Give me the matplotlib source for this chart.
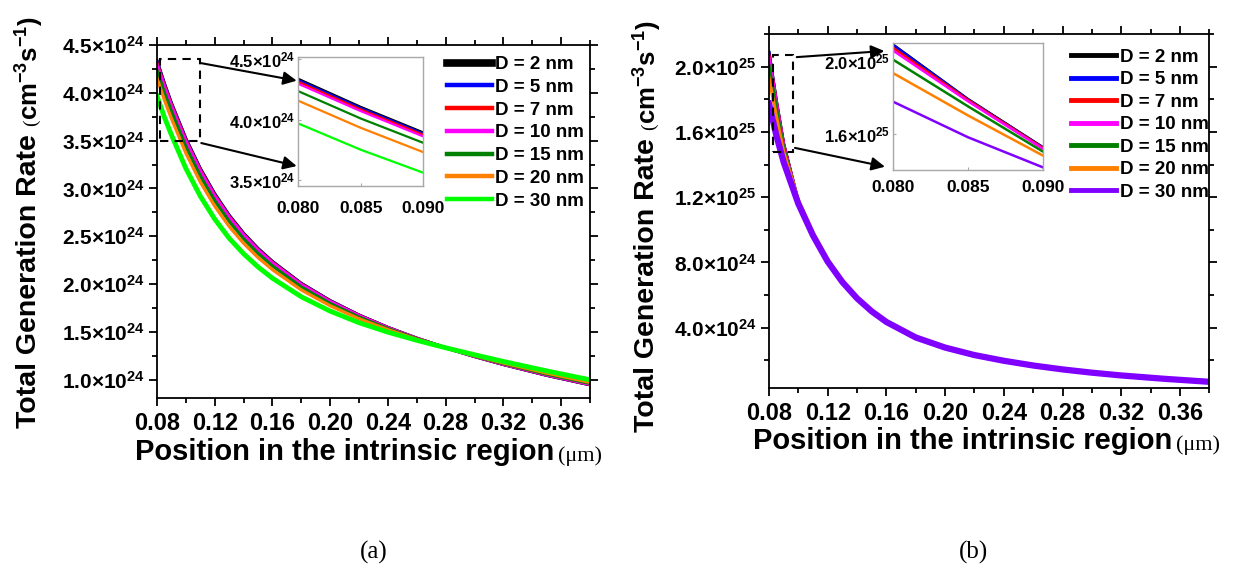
import numpy as np
import matplotlib
matplotlib.use('Agg')
import matplotlib.pyplot as plt
from matplotlib.ticker import MultipleLocator, FixedLocator, FuncFormatter
from matplotlib.patches import Rectangle

plt.rcParams['font.family'] = 'Liberation Sans'
plt.rcParams['font.weight'] = 'bold'
plt.rcParams['mathtext.fontset'] = 'custom'
plt.rcParams['mathtext.rm'] = 'Liberation Sans:bold'
plt.rcParams['mathtext.bf'] = 'Liberation Sans:bold'
plt.rcParams['mathtext.it'] = 'Liberation Sans:bold'
plt.rcParams['mathtext.default'] = 'rm'

'''------DATA------'''
labels = ['D = 2 nm', 'D = 5 nm', 'D = 7 nm', 'D = 10 nm', 'D = 15 nm', 'D = 20 nm', 'D = 30 nm']
colors_a = ['#000000', '#0000ff', '#ff0000', '#ff00ff', '#008000', '#ff8000', '#00ff00']
colors_b = ['#000000', '#0000ff', '#ff0000', '#ff00ff', '#008000', '#ff8000', '#8000ff']

# position in um
pos = [0.08, 0.085, 0.09, 0.10, 0.11, 0.12, 0.13, 0.14, 0.15, 0.16, 0.18, 0.20,
       0.22, 0.24, 0.26, 0.28, 0.30, 0.32, 0.35, 0.38]

# panel (a), units of 1e24 cm^-3 s^-1
gen_a = [
    [4.336, 4.104, 3.893, 3.522, 3.209, 2.945, 2.721, 2.532, 2.373, 2.237, 2.008, 1.828, 1.677, 1.548, 1.435, 1.335, 1.244, 1.160, 1.047, 0.948],
    [4.326, 4.095, 3.884, 3.514, 3.202, 2.938, 2.715, 2.527, 2.368, 2.233, 2.005, 1.825, 1.675, 1.547, 1.434, 1.335, 1.244, 1.161, 1.048, 0.949],
    [4.312, 4.083, 3.874, 3.503, 3.192, 2.929, 2.707, 2.519, 2.361, 2.227, 2.000, 1.821, 1.672, 1.545, 1.434, 1.335, 1.245, 1.162, 1.050, 0.951],
    [4.295, 4.069, 3.860, 3.491, 3.180, 2.919, 2.697, 2.511, 2.354, 2.220, 1.994, 1.817, 1.669, 1.543, 1.433, 1.335, 1.246, 1.163, 1.052, 0.953],
    [4.234, 4.008, 3.807, 3.438, 3.131, 2.873, 2.656, 2.474, 2.321, 2.190, 1.970, 1.798, 1.655, 1.535, 1.429, 1.335, 1.249, 1.169, 1.059, 0.962],
    [4.155, 3.931, 3.730, 3.369, 3.067, 2.815, 2.603, 2.427, 2.278, 2.151, 1.939, 1.774, 1.638, 1.524, 1.424, 1.335, 1.253, 1.176, 1.070, 0.973],
    [3.967, 3.750, 3.560, 3.210, 2.920, 2.680, 2.480, 2.318, 2.180, 2.062, 1.868, 1.718, 1.597, 1.498, 1.413, 1.335, 1.262, 1.192, 1.093, 1.000],
]

# panel (b), units of 1e24 cm^-3 s^-1
gen_b = [
    [20.89, 17.90, 15.26, 11.70, 9.70, 8.05, 6.78, 5.78, 4.98, 4.33, 3.38, 2.77, 2.31, 1.96, 1.67, 1.43, 1.23, 1.06, 0.85, 0.67],
    [20.86, 17.88, 15.25, 11.70, 9.70, 8.05, 6.78, 5.78, 4.98, 4.33, 3.38, 2.77, 2.31, 1.96, 1.67, 1.43, 1.23, 1.06, 0.85, 0.67],
    [20.71, 17.85, 15.22, 11.70, 9.71, 8.06, 6.79, 5.78, 4.98, 4.33, 3.38, 2.77, 2.31, 1.96, 1.67, 1.43, 1.23, 1.06, 0.85, 0.67],
    [20.56, 17.78, 15.17, 11.72, 9.72, 8.07, 6.79, 5.79, 4.98, 4.33, 3.38, 2.77, 2.31, 1.96, 1.67, 1.43, 1.23, 1.06, 0.85, 0.67],
    [20.06, 17.50, 15.02, 11.75, 9.75, 8.10, 6.82, 5.79, 4.97, 4.31, 3.36, 2.75, 2.30, 1.95, 1.66, 1.43, 1.23, 1.06, 0.85, 0.67],
    [19.32, 17.00, 14.80, 11.85, 9.85, 8.20, 6.88, 5.78, 4.95, 4.28, 3.33, 2.72, 2.27, 1.93, 1.65, 1.42, 1.23, 1.06, 0.85, 0.67],
    [17.75, 15.80, 14.15, 11.60, 9.65, 8.05, 6.80, 5.80, 5.00, 4.35, 3.40, 2.78, 2.32, 1.97, 1.68, 1.44, 1.24, 1.07, 0.86, 0.68],
]
'''------DATA------'''

W, H = 1239, 576
fig = plt.figure(figsize=(W / 100, H / 100), dpi=100)


def box(l, t, r, b):
    # pixel box (top-left origin) -> figure fraction rect
    return [l / W, 1 - b / H, (r - l) / W, (b - t) / H]


def sci(v, pos=None):
    if v <= 0:
        return ''
    e = int(np.floor(np.log10(v) + 1e-9))
    return '%.1f×10$^{%d}$' % (v / 10 ** e, e)


def style_main(ax):
    for s in ax.spines.values():
        s.set_linewidth(1.3)
    ax.tick_params(which='both', direction='out', top=True, right=True,
                   labeltop=False, labelright=False, width=1.3)
    ax.tick_params(which='major', length=6)
    ax.tick_params(which='minor', length=3.5)
    ax.tick_params(axis='x', labelsize=17, pad=4)
    ax.tick_params(axis='y', labelsize=15, pad=3)
    ax.xaxis.set_major_locator(MultipleLocator(0.04))
    ax.xaxis.set_minor_locator(MultipleLocator(0.02))
    ax.xaxis.set_major_formatter(FuncFormatter(lambda v, p: '%.2f' % v))
    ax.yaxis.set_major_formatter(FuncFormatter(sci))
    ax.set_xlim(0.08, 0.38)


def style_inset(ax, yticks, xpad):
    for s in ax.spines.values():
        s.set_linewidth(1.0)
        s.set_color('#a8a8a8')
    ax.tick_params(which='both', direction='in', color='#a8a8a8', length=2.5)
    ax.tick_params(axis='x', labelsize=12.5, pad=xpad)
    ax.tick_params(axis='y', labelsize=12, pad=2)
    ax.set_xlim(0.080, 0.090)
    ax.xaxis.set_major_locator(FixedLocator([0.080, 0.085, 0.090]))
    ax.xaxis.set_major_formatter(FuncFormatter(lambda v, p: '%.3f' % v))
    ax.yaxis.set_major_locator(FixedLocator(yticks))
    ax.yaxis.set_major_formatter(FuncFormatter(sci))


def axis_labels(ax, xl_pix, yl_pix):
    t = fig.text(xl_pix[0] / W, 1 - xl_pix[1] / H, 'Position in the intrinsic region',
                 fontsize=21, fontweight='bold', ha='left', va='baseline')
    ax.annotate('(μm)', xy=(1, 0), xycoords=t, xytext=(3, 0), textcoords='offset points',
                fontsize=16, family='Liberation Serif', fontweight='normal',
                ha='left', va='bottom', annotation_clip=False)
    ty = fig.text(yl_pix[0] / W, 1 - yl_pix[1] / H, 'Total Generation Rate ',
                  fontsize=20.5, fontweight='bold', rotation=90, ha='center', va='bottom')
    tp = ax.annotate('(', xy=(0.5, 1), xycoords=ty, xytext=(2, 0), textcoords='offset points',
                     fontsize=14, family='Liberation Serif', fontweight='normal',
                     rotation=90, ha='center', va='bottom', annotation_clip=False)
    ax.annotate('cm$^{-3}$s$^{-1}$)', xy=(0.45, 1), xycoords=tp, xytext=(-1, 0),
                textcoords='offset points', fontsize=18.5, rotation=90, ha='center',
                va='bottom', annotation_clip=False)


def arrow(ax_from, xy_from, ax_to, xy_to):
    ax_from.annotate('', xy=xy_to, xycoords=ax_to.transAxes, xytext=xy_from,
                     textcoords='data',
                     arrowprops=dict(arrowstyle='-|>', color='k', lw=1.5,
                                     mutation_scale=20, shrinkA=0, shrinkB=0),
                     annotation_clip=False)


x = np.array(pos)

'''------PANEL (a)------'''
ax1 = fig.add_axes(box(157, 45, 590, 398))
lines_a = []
for i in range(7):
    lw = 3.5 if i == 6 else 2.3
    ln, = ax1.plot(x, np.array(gen_a[i]) * 1e24, color=colors_a[i], lw=lw, label=labels[i])
    lines_a.append(ln)
style_main(ax1)
ax1.set_ylim(0.81e24, 4.5e24)
ax1.yaxis.set_major_locator(MultipleLocator(0.5e24))
ax1.yaxis.set_minor_locator(MultipleLocator(0.25e24))
ax1.add_patch(Rectangle((0.082, 3.495e24), 0.1097 - 0.082, 4.35e24 - 3.495e24,
                        fill=False, ls=(0, (4, 3)), lw=1.5, ec='k', zorder=5))

in1 = fig.add_axes(box(298.3, 57.3, 423.3, 185.7))
for i in range(7):
    in1.plot(x, np.array(gen_a[i]) * 1e24, color=colors_a[i], lw=1.6)
style_inset(in1, [3.5e24, 4.0e24, 4.5e24], 11)
in1.set_ylim(3.453e24, 4.514e24)

arrow(ax1, (0.1107, 4.31e24), in1, (-0.013, 0.818))
arrow(ax1, (0.1107, 3.475e24), in1, (-0.013, 0.153))

leg = ax1.legend(handles=lines_a, loc='upper left', bbox_to_anchor=(446.7 / W, 1 - 56 / H),
                 bbox_transform=fig.transFigure, frameon=False, fontsize=13.5,
                 handlelength=2.4, handletextpad=0.2, labelspacing=0.3,
                 borderpad=0, borderaxespad=0)
for i, l in enumerate(leg.get_lines()):
    l.set_linewidth(5.5 if i == 0 else 3.2)

axis_labels(ax1, (135, 460), (29, 428))

'''------PANEL (b)------'''
ax2 = fig.add_axes(box(769, 34.3, 1209.3, 388))
lines_b = []
for i in range(7):
    lw = 4.5 if i == 6 else 2.3
    ln, = ax2.plot(x, np.array(gen_b[i]) * 1e24, color=colors_b[i], lw=lw, label=labels[i])
    lines_b.append(ln)
style_main(ax2)
ax2.set_ylim(0.3e24, 2.2e25)
ax2.yaxis.set_major_locator(MultipleLocator(4e24))
ax2.yaxis.set_minor_locator(MultipleLocator(2e24))
ax2.add_patch(Rectangle((0.083, 14.8e24), 0.0966 - 0.083, 20.7e24 - 14.8e24,
                        fill=False, ls=(0, (4, 3)), lw=1.5, ec='k', zorder=5))

in2 = fig.add_axes(box(893.3, 42.7, 1042.7, 170))
for i in range(7):
    in2.plot(x, np.array(gen_b[i]) * 1e24, color=colors_b[i], lw=1.8)
style_inset(in2, [1.6e25, 2.0e25], 7)
in2.set_ylim(1.40e25, 2.10e25)

arrow(ax2, (0.0989, 20.6e24), in2, (-0.06, 0.935))
arrow(ax2, (0.0977, 15.03e24), in2, (-0.056, 0.026))

leg2 = ax2.legend(handles=lines_b, loc='upper left', bbox_to_anchor=(1071 / W, 1 - 48.5 / H),
                  bbox_transform=fig.transFigure, frameon=False, fontsize=13.5,
                  handlelength=2.4, handletextpad=0.2, labelspacing=0.29,
                  borderpad=0, borderaxespad=0)
for l in leg2.get_lines():
    l.set_linewidth(3.5)

axis_labels(ax2, (753, 449), (647, 432))

fig.text(374 / W, 1 - 552 / H, '(a)', fontsize=18, family='Liberation Serif',
         fontweight='normal', ha='center', va='center')
fig.text(974 / W, 1 - 552 / H, '(b)', fontsize=18, family='Liberation Serif',
         fontweight='normal', ha='center', va='center')

fig.savefig('out.png', dpi=100, facecolor='white')
